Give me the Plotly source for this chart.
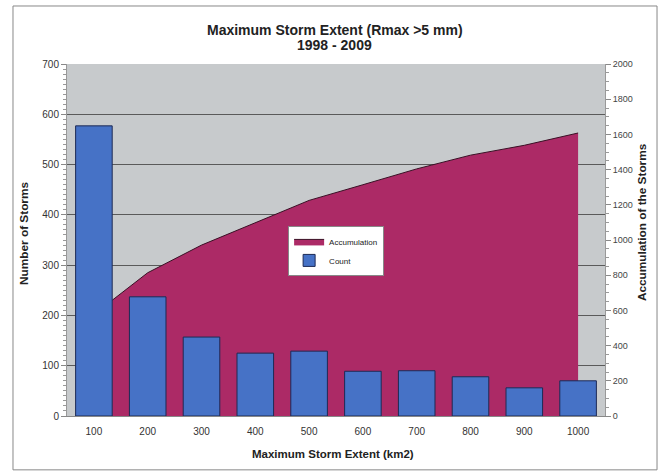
import plotly.graph_objects as go

categories = ["100", "200", "300", "400", "500", "600", "700", "800", "900", "1000"]
count = [577, 237, 157, 125, 129, 89, 90, 78, 56, 70]
accumulation = [577, 814, 971, 1096, 1225, 1314, 1404, 1482, 1538, 1608]

left_ticks = [0, 100, 200, 300, 400, 500, 600, 700]
right_ticks = [0, 200, 400, 600, 800, 1000, 1200, 1400, 1600, 1800, 2000]

font_family = "Liberation Sans, Arial, sans-serif"

fig = go.Figure()

fig.add_trace(go.Scatter(
    x=categories, y=accumulation, name="Accumulation",
    mode="lines", fill="tozeroy",
    line=dict(color="#3a1025", width=1),
    fillcolor="#AC2A66",
    yaxis="y", xaxis="x",
))

fig.add_trace(go.Bar(
    x=categories, y=count, name="Count",
    marker=dict(color="#4672C6", line=dict(color="#1d2a55", width=1)),
    yaxis="y2", xaxis="x",
))

fig.update_layout(
    width=665, height=472,
    margin=dict(l=67, r=60, t=64, b=56),
    paper_bgcolor="white",
    plot_bgcolor="#C7CACC",
    font=dict(family=font_family, size=10, color="#333"),
    showlegend=True,
    bargap=0.32,
    legend=dict(
        x=0.411, y=0.54, xanchor="left", yanchor="top",
        bgcolor="white", bordercolor="#888", borderwidth=1,
        font=dict(size=8, color="#222"),
        tracegroupgap=0, itemwidth=30,
    ),
    xaxis=dict(
        type="category", range=[-0.5, 9.5],
        showgrid=False, showline=True, linecolor="#888",
        ticks="", ticklabelstandoff=6, tickfont=dict(size=10, color="#333"),
    ),
    yaxis=dict(
        side="right", range=[0, 2000], tickvals=right_ticks,
        showgrid=False, showline=True, linecolor="#999",
        ticks="outside", ticklen=5, tickcolor="#888",
        minor=dict(dtick=50, ticks="outside", ticklen=3, tickcolor="#999"),
        tickfont=dict(size=9, color="#444"),
        zeroline=False,
    ),
    yaxis2=dict(
        overlaying="y", side="left", range=[0, 700], tickvals=left_ticks,
        showgrid=True, gridcolor="#5a5a5a", gridwidth=1,
        showline=True, linecolor="#999",
        ticks="outside", ticklen=5, tickcolor="#888",
        minor=dict(dtick=10, ticks="outside", ticklen=3, tickcolor="#999"),
        tickfont=dict(size=10, color="#333"),
        zeroline=False,
    ),
    annotations=[
        dict(text="<b>Maximum Storm Extent (Rmax >5 mm)</b>",
             xref="paper", yref="paper", x=0.498, y=1.0966, xanchor="center", yanchor="middle",
             showarrow=False, font=dict(size=14, color="#222")),
        dict(text="<b>1998 - 2009</b>",
             xref="paper", yref="paper", x=0.498, y=1.054, xanchor="center", yanchor="middle",
             showarrow=False, font=dict(size=14, color="#222")),
        dict(text="<b>Number of Storms</b>", xref="paper", yref="paper",
             x=-0.08, y=0.52, textangle=-90, showarrow=False,
             xanchor="center", yanchor="middle", font=dict(size=11.8, color="#222")),
        dict(text="<b>Accumulation of the Storms</b>", xref="paper", yref="paper",
             x=1.07, y=0.55, textangle=-90, showarrow=False,
             xanchor="center", yanchor="middle", font=dict(size=11.8, color="#222")),
        dict(text="<b>Maximum Storm Extent (km2)</b>", xref="paper", yref="paper",
             x=0.495, y=-0.108, showarrow=False,
             xanchor="center", yanchor="middle", font=dict(size=11.5, color="#222")),
    ],
    shapes=[
        dict(type="rect", xref="paper", yref="paper",
             x0=-0.1004, x1=1.0967, y0=-0.153, y1=1.1648,
             line=dict(color="#888", width=1), layer="below"),
    ],
)

fig.write_html("out.html")
